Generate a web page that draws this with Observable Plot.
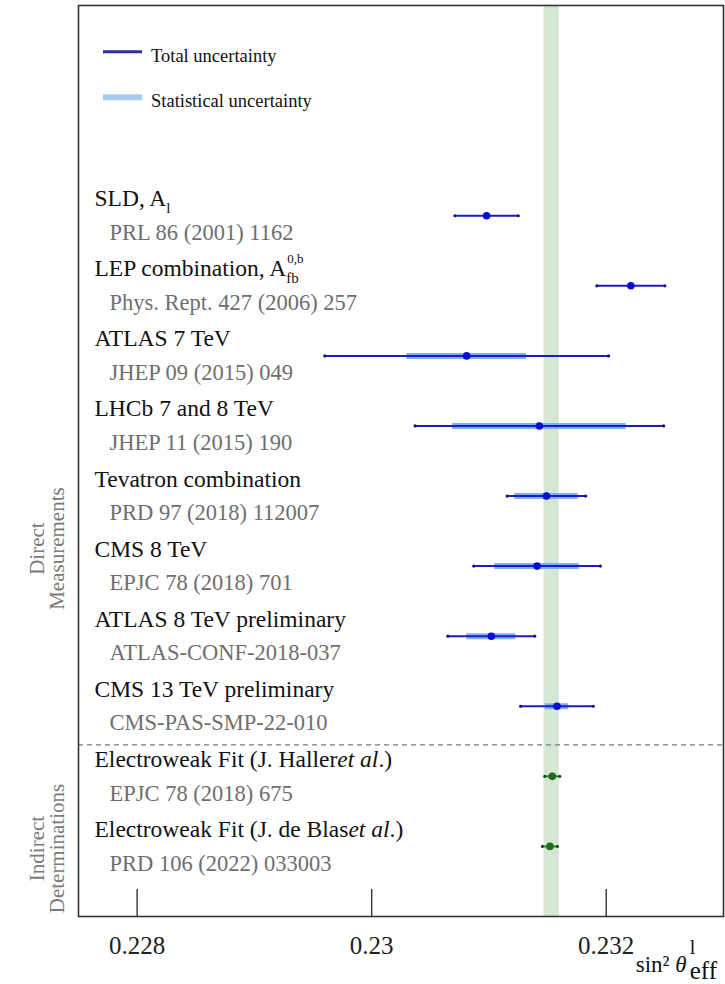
<!DOCTYPE html>
<html><head><meta charset="utf-8">
<script src="https://cdn.jsdelivr.net/npm/d3@7"></script>
<script src="https://cdn.jsdelivr.net/npm/@observablehq/plot@0.6"></script>
<style>
body{margin:0;background:#fff}
#chart{position:relative;width:725px;height:984px}
</style>
</head><body><div id="chart"></div>
<script>
// ---- data ----
const experiments = ["SLD, A", "LEP combination, A", "ATLAS 7 TeV", "LHCb 7 and 8 TeV", "Tevatron combination",
  "CMS 8 TeV", "ATLAS 8 TeV preliminary", "CMS 13 TeV preliminary", "Electroweak Fit (J. Haller", "Electroweak Fit (J. de Blas"];
const expSub = ["l", "fb", "", "", "", "", "", "", "", ""];
const expSup = ["", "0,b", "", "", "", "", "", "", "", ""];
const expItalic = ["", "", "", "", "", "", "", "", "et al", "et al"];
const expTail = ["", "", "", "", "", "", "", "", ".)", ".)"];
const references = ["PRL 86 (2001) 1162", "Phys. Rept. 427 (2006) 257", "JHEP 09 (2015) 049", "JHEP 11 (2015) 190",
  "PRD 97 (2018) 112007", "EPJC 78 (2018) 701", "ATLAS-CONF-2018-037", "CMS-PAS-SMP-22-010",
  "EPJC 78 (2018) 675", "PRD 106 (2022) 033003"];
const central  = [0.23098, 0.23221, 0.23081, 0.23143, 0.23149, 0.23141, 0.23102, 0.23158, 0.23154, 0.23152];
const totalErr = [0.00027, 0.00029, 0.00121, 0.00106, 0.000335, 0.00054, 0.00037, 0.00031, 0.000064, 0.000064];
const statErr  = [null, null, 0.00051, 0.00074, 0.00027, 0.00036, 0.00021, 0.00010, null, null];
const kind = ["direct","direct","direct","direct","direct","direct","direct","direct","indirect","indirect"];
const groupNames = ["Direct\nMeasurements", "Indirect\nDeterminations"];
const groupLabelRow = [4.75, 9.03];
const separatorRow = 7.55;
const bandLow = 0.23147, bandHigh = 0.23160;
const xTicks = [0.228, 0.23, 0.232];
const xTickLabels = ["0.228", "0.23", "0.232"];
const xDomain = [0.2275, 0.233];
const rowDomain = [-3, 10];

// ---- tables ----
const rows = experiments.map((name, i) => ({
  name, ref: references[i], row: i, c: central[i], tot: totalErr[i], stat: statErr[i], kind: kind[i]
}));
const statRows = rows.filter(d => d.stat != null);
const ends = rows.flatMap(d => [{row: d.row, x: d.c - d.tot, kind: d.kind}, {row: d.row, x: d.c + d.tot, kind: d.kind}]);
const groups = groupNames.map((name, i) => ({name, row: groupLabelRow[i]}));

const lineCol = {direct: "#1c1cc4", indirect: "#2e7d2e"};
const dotCol = {direct: "#0b0bd6", indirect: "#1b6e1b"};
const capCol = {direct: "#14146e", indirect: "#145214"};

const FONT = "Liberation Serif, Times New Roman, serif";

const chart = Plot.plot({
  width: 725, height: 984,
  marginLeft: 78, marginRight: 2, marginTop: 5, marginBottom: 68,
  style: {fontFamily: FONT, background: "#fff", overflow: "visible"},
  x: {domain: xDomain, label: null},
  y: {domain: rowDomain, reverse: true, axis: null},
  marks: [
    Plot.rect([{x1: bandLow, x2: bandHigh}], {x1: "x1", x2: "x2", y1: () => rowDomain[0], y2: () => rowDomain[1], fill: "#d5e6d5"}),
    Plot.ruleY([separatorRow], {stroke: "#7a7a7a", strokeWidth: 1.3, strokeDasharray: "5,4"}),
    Plot.ruleY(statRows, {y: "row", x1: d => d.c - d.stat, x2: d => d.c + d.stat, stroke: "#7fb0f6", strokeWidth: 6}),
    Plot.ruleY(rows, {y: "row", x1: d => d.c - d.tot, x2: d => d.c + d.tot, stroke: d => lineCol[d.kind], strokeWidth: 2}),
    Plot.dot(ends, {x: "x", y: "row", r: 1.6, fill: d => capCol[d.kind], stroke: null}),
    Plot.dot(rows, {x: "c", y: "row", r: 3.8, fill: d => dotCol[d.kind], stroke: null}),
    Plot.text(rows, {y: "row", text: "name", frameAnchor: "left", textAnchor: "start", dx: 16, dy: -17,
      fontSize: 23.5, fill: "#111"}),
    Plot.text(rows, {y: "row", text: "ref", frameAnchor: "left", textAnchor: "start", dx: 31, dy: 17,
      fontSize: 22.5, fill: "#6e6e6e"}),
    Plot.text(groups, {y: "row", text: "name", frameAnchor: "left", textAnchor: "middle", dx: -31, rotate: -90,
      fontSize: 21, lineHeight: 0.95, fill: "#7a7a7a"}),
    Plot.ruleX(xTicks, {x: d => d, insetTop: 884, stroke: "#333", strokeWidth: 1.4}),
    Plot.axisX(xTicks, {tickSize: 0, tickPadding: 20, fontSize: 25, fill: "#222",
      tickFormat: d => xTickLabels[xTicks.indexOf(d)]}),
    Plot.frame({stroke: "#333", strokeWidth: 1.6})
  ]
});

document.getElementById("chart").appendChild(chart);

// ---- rich text on labels (subscripts, superscripts, italics) ----
const svg = d3.select(chart);
svg.selectAll("text").each(function() {
  const i = experiments.indexOf(this.textContent);
  if (i < 0) return;
  const t = d3.select(this);
  const baseX = +(this.getAttribute("x") || 0);
  const w = this.getComputedTextLength();
  if (expSub[i]) {
    t.append("tspan").attr("font-size", 15).attr("dy", 7).text(expSub[i]);
    if (expSup[i]) {
      t.append("tspan").attr("x", baseX + w + 1).attr("font-size", 13).attr("dy", -20).text(expSup[i]);
    }
  }
  if (expItalic[i]) {
    t.append("tspan").attr("font-style", "italic").text(expItalic[i]);
    t.append("tspan").text(expTail[i]);
  }
});

// ---- legend ----
const lg = svg.append("g").attr("font-family", FONT).attr("font-size", 18.5).attr("fill", "#111").attr("text-anchor", "start");
lg.append("line").attr("x1", 103).attr("x2", 142).attr("y1", 51.7).attr("y2", 51.7)
  .attr("stroke", "#2b2ba8").attr("stroke-width", 3);
lg.append("text").attr("x", 151).attr("y", 61.5).text("Total uncertainty");
lg.append("line").attr("x1", 103).attr("x2", 142).attr("y1", 97.3).attr("y2", 97.3)
  .attr("stroke", "#a6ccf2").attr("stroke-width", 6);
lg.append("text").attr("x", 151).attr("y", 107).text("Statistical uncertainty");

// ---- x axis label: sin^2 theta_eff^l ----
const xs = chart.scale("x");
const x0 = xs.apply(0.232) + 30;
const xl = svg.append("g").attr("font-family", FONT).attr("fill", "#111").attr("text-anchor", "start");
const t1 = xl.append("text").attr("x", x0).attr("y", 972).attr("font-size", 23);
t1.append("tspan").text("sin² ");
t1.append("tspan").attr("font-style", "italic").text("θ");
xl.append("text").attr("x", x0 + 54).attr("y", 954).attr("font-size", 20).text("l");
xl.append("text").attr("x", x0 + 54).attr("y", 979).attr("font-size", 25).text("eff");
</script>
</body></html>
